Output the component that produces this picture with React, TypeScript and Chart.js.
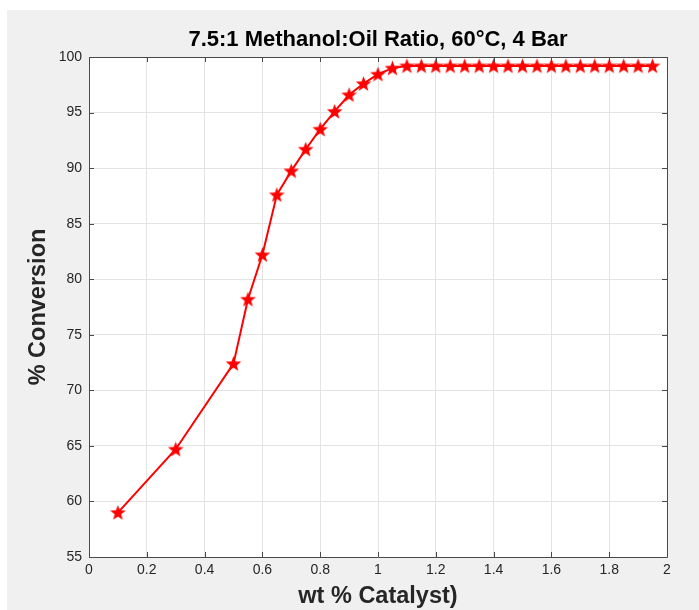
import React, { useEffect, useRef } from "react";
import { Chart, registerables } from "chart.js";

Chart.register(...registerables);

const catalystWt = [
  0.1, 0.3, 0.5, 0.55, 0.6, 0.65, 0.7, 0.75, 0.8, 0.85, 0.9, 0.95, 1.0, 1.05,
  1.1, 1.15, 1.2, 1.25, 1.3, 1.35, 1.4, 1.45, 1.5, 1.55, 1.6, 1.65, 1.7, 1.75,
  1.8, 1.85, 1.9, 1.95,
];
const conversion = [
  59.0, 64.7, 72.4, 78.2, 82.2, 87.6, 89.75, 91.7, 93.5, 95.1, 96.6, 97.6, 98.45,
  99.0, 99.2, 99.2, 99.2, 99.2, 99.2, 99.2, 99.2, 99.2, 99.2, 99.2, 99.2, 99.2,
  99.2, 99.2, 99.2, 99.2, 99.2, 99.2,
];
const xTicks = [0, 0.2, 0.4, 0.6, 0.8, 1, 1.2, 1.4, 1.6, 1.8, 2];
const yTicks = [55, 60, 65, 70, 75, 80, 85, 90, 95, 100];

const titleText = "7.5:1 Methanol:Oil Ratio, 60°C, 4 Bar";
const xTitle = "wt % Catalyst)";
const yTitle = "% Conversion";

const FONT = "'Liberation Sans', Arial, Helvetica, sans-serif";
const AXIS_COLOR = "#4a4a4a";
const TEXT_COLOR = "#262626";

function makeStar(): HTMLCanvasElement {
  const c = document.createElement("canvas");
  const size = 17;
  c.width = size;
  c.height = size;
  const ctx = c.getContext("2d")!;
  const cx = size / 2;
  const cy = size / 2 + 0.6;
  const R = 8.2;
  const r = 3.4;
  ctx.beginPath();
  for (let i = 0; i < 10; i++) {
    const rad = i % 2 === 0 ? R : r;
    const a = -Math.PI / 2 + (i * Math.PI) / 5;
    const px = cx + rad * Math.cos(a);
    const py = cy + rad * Math.sin(a);
    if (i === 0) ctx.moveTo(px, py);
    else ctx.lineTo(px, py);
  }
  ctx.closePath();
  ctx.fillStyle = "#ff0000";
  ctx.fill();
  return c;
}

const framePlugin = {
  id: "frame",
  beforeDraw(chart: any) {
    const { ctx, width, height, chartArea } = chart;
    ctx.save();
    ctx.fillStyle = "#ffffff";
    ctx.fillRect(0, 0, width, height);
    ctx.fillStyle = "#f0f0f0";
    ctx.fillRect(7, 10, width - 7, height - 10);
    ctx.fillStyle = "#ffffff";
    ctx.fillRect(
      chartArea.left,
      chartArea.top,
      chartArea.right - chartArea.left,
      chartArea.bottom - chartArea.top
    );
    ctx.restore();
  },
  afterDraw(chart: any) {
    const { ctx, chartArea } = chart;
    const xs = chart.scales.x;
    const ys = chart.scales.y;
    const { left, right, top, bottom } = chartArea;
    ctx.save();
    ctx.strokeStyle = AXIS_COLOR;
    ctx.lineWidth = 1;
    ctx.beginPath();
    ctx.rect(Math.round(left) + 0.5, Math.round(top) + 0.5, Math.round(right - left), Math.round(bottom - top));
    ctx.stroke();
    const tl = 5;
    ctx.beginPath();
    xTicks.forEach((v) => {
      const px = Math.round(xs.getPixelForValue(v)) + 0.5;
      ctx.moveTo(px, bottom);
      ctx.lineTo(px, bottom - tl);
      ctx.moveTo(px, top);
      ctx.lineTo(px, top + tl);
    });
    yTicks.forEach((v) => {
      const py = Math.round(ys.getPixelForValue(v)) + 0.5;
      ctx.moveTo(left, py);
      ctx.lineTo(left + tl, py);
      ctx.moveTo(right, py);
      ctx.lineTo(right - tl, py);
    });
    ctx.stroke();
    ctx.restore();
  },
};

export default function App() {
  const canvasRef = useRef<HTMLCanvasElement | null>(null);

  useEffect(() => {
    const canvas = canvasRef.current;
    if (!canvas) return;
    const star = makeStar();
    const chart = new Chart(canvas, {
      type: "line",
      data: {
        datasets: [
          {
            data: catalystWt.map((x, i) => ({ x, y: conversion[i] })),
            borderColor: "#ff0000",
            backgroundColor: "#ff0000",
            borderWidth: 2,
            pointStyle: star as any,
            pointRadius: 8,
            pointHoverRadius: 8,
            tension: 0,
            fill: false,
          },
        ],
      },
      options: {
        animation: false,
        responsive: false,
        maintainAspectRatio: false,
        events: [],
        layout: { padding: { top: 0, left: 0, right: 32, bottom: 0 } },
        plugins: {
          legend: { display: false },
          tooltip: { enabled: false },
          title: {
            display: true,
            text: titleText,
            fullSize: false,
            color: "#000000",
            font: { family: FONT, size: 22, weight: "bold", lineHeight: 1.2 },
            padding: { top: 27, bottom: 3.6 },
          },
        },
        scales: {
          x: {
            type: "linear",
            min: 0,
            max: 2,
            afterBuildTicks: (scale: any) => {
              scale.ticks = xTicks.map((v) => ({ value: v }));
            },
            afterFit: (scale: any) => {
              scale.height = 53;
            },
            ticks: {
              color: TEXT_COLOR,
              font: { family: FONT, size: 14 },
              padding: 5,
              maxRotation: 0,
              autoSkip: false,
              callback: (v: any) => String(parseFloat(Number(v).toFixed(2))),
            },
            grid: { color: "#e3e3e3", drawTicks: false },
            border: { display: false },
            title: {
              display: true,
              text: xTitle,
              color: TEXT_COLOR,
              font: { family: FONT, size: 23.5, weight: "bold", lineHeight: 1.2 },
              padding: { top: 0, bottom: -1 },
            },
          },
          y: {
            type: "linear",
            min: 55,
            max: 100,
            afterBuildTicks: (scale: any) => {
              scale.ticks = yTicks.map((v) => ({ value: v }));
            },
            afterFit: (scale: any) => {
              scale.width = 89;
            },
            ticks: {
              color: TEXT_COLOR,
              font: { family: FONT, size: 14 },
              padding: 7,
              autoSkip: false,
            },
            grid: { color: "#e3e3e3", drawTicks: false },
            border: { display: false },
            title: {
              display: true,
              text: yTitle,
              color: TEXT_COLOR,
              font: { family: FONT, size: 23.5, weight: "bold", lineHeight: 1.2 },
              padding: { top: 24, bottom: 0 },
            },
          },
        },
      },
      plugins: [framePlugin],
    } as any);
    return () => chart.destroy();
  }, []);

  return (
    <div style={{ position: "absolute", left: 0, top: 0, width: 699, height: 610 }}>
      <canvas ref={canvasRef} width={699} height={610} style={{ display: "block" }} />
    </div>
  );
}
